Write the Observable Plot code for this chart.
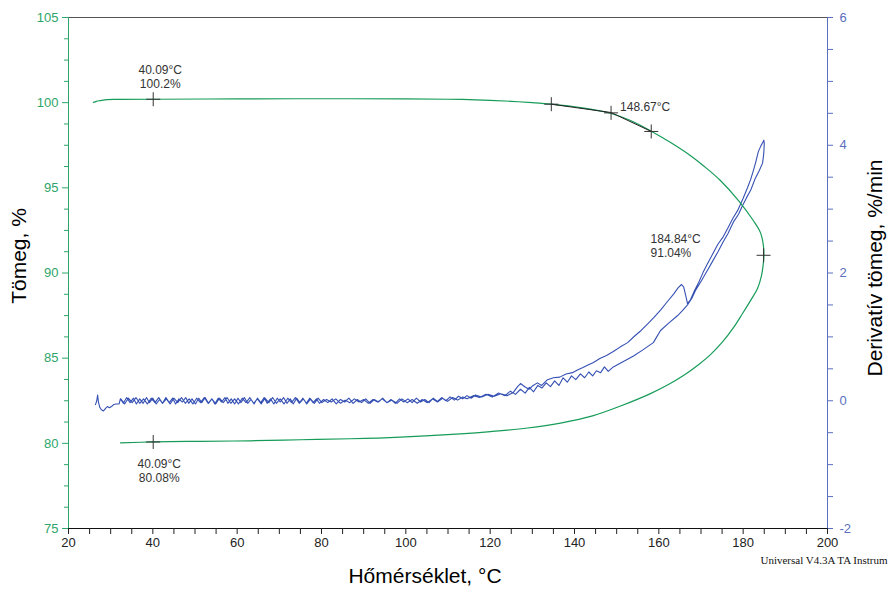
<!DOCTYPE html>
<html>
<head>
<meta charset="utf-8">
<script src="https://cdn.jsdelivr.net/npm/d3@7"></script>
<script src="https://cdn.jsdelivr.net/npm/@observablehq/plot@0.6"></script>
<style>
  html, body { margin: 0; padding: 0; background: #fff; }
  #chart svg { display: block; }
</style>
</head>
<body>
<div id="chart"></div>
<script>
// ---------- data ----------
// Weight %, heating branch (temperature °C, weight %)
const massHeating = [
  [25.9,100.02],[26.6,100.08],[27.5,100.12],[29.2,100.18],[32,100.19],[40.09,100.2],[60,100.22],
  [80,100.23],[100,100.22],[110,100.2],[115,100.18],[120,100.14],[125,100.08],[130,100.0],
  [134.5,99.91],[141.4,99.71],[148.5,99.38],[153.3,98.95],[158.3,98.31],[162.8,97.66],
  [166.8,97.01],[170.8,96.25],[174.6,95.43],[178.9,94.25],[182.4,93.08],[184.1,92.37],
  [184.8,91.61],[184.92,91.02]
];
// Weight %, return branch
const massCooling = [
  [184.7,90.38],[184.35,89.85],[183.4,89.09],[181.74,88.38],[179.85,87.62],[177.78,86.82],
  [175.1,85.95],[172.25,85.21],[169.17,84.57],[165.85,83.98],[162.05,83.42],[158.02,82.92],
  [150.91,82.19],[144.5,81.63],[136.68,81.19],[128.85,80.9],[120.08,80.69],[112.96,80.56],
  [98.73,80.37],[86.88,80.27],[75.02,80.21],[63.16,80.15],[51.3,80.12],[40.09,80.08],[32.33,80.03]
];
// Derivative weight %/min (temperature °C, %/min)
const derivHook = [
  [26.4,-0.06],[26.7,0.0],[26.9,0.09],[27.1,-0.02],[27.4,-0.10],[27.8,-0.14],[28.3,-0.16],
  [28.8,-0.12],[29.2,-0.09],[29.7,-0.11],[30.2,-0.09],[30.7,-0.06],[31.3,-0.05],[32.0,-0.05]
];
const derivHeatBand = [
  [32.3,0.03],[33.0,-0.04],[33.8,0.05],[34.6,-0.03],[35.4,0.04],[36.1,-0.05],[36.9,0.03],
  [37.7,-0.04],[38.5,0.05],[39.2,-0.03],[40.0,0.04],[40.8,-0.05],[41.6,0.02],[42.3,-0.04],
  [43.1,0.05],[43.9,-0.03],[44.7,0.04],[45.4,-0.05],[46.2,0.03],[47.0,-0.02],[47.8,0.05],
  [48.5,-0.04],[49.3,0.03],[50.1,-0.05],[50.9,0.04],[51.6,-0.03],[52.4,0.05],[53.2,-0.04],
  [54.0,0.03],[54.7,-0.05],[55.5,0.04],[56.3,-0.02],[57.1,0.05],[57.8,-0.04],[58.6,0.03],
  [59.4,-0.05],[60.2,0.04],[60.9,-0.03],[61.7,0.05],[62.5,-0.04],[63.3,0.02],[64.0,-0.05],
  [64.8,0.04],[65.6,-0.03],[66.4,0.05],[67.1,-0.04],[67.9,0.03],[68.7,-0.05],[69.5,0.04],
  [70.2,-0.02],[71.0,0.05],[71.8,-0.04],[72.6,0.03],[73.3,-0.05],[74.1,0.04],[74.9,-0.03],
  [75.7,0.03],[76.4,-0.04],[77.2,0.04],[78.0,-0.03],[78.8,0.03],[79.5,-0.04],[80.5,0.02],
  [81.5,-0.03],[82.5,0.03],[83.5,-0.05],[84.5,0.02],[85.5,-0.02],[86.5,0.04],[87.5,-0.04],
  [88.5,0.02],[89.5,-0.03],[90.5,0.03],[91.5,-0.04],[92.5,0.02],[93.5,-0.02],[94.5,0.04],
  [95.5,-0.03],[96.5,0.02],[97.5,-0.04],[98.5,0.03],[99.5,-0.02],[100.5,0.03],[101.5,-0.03],
  [102.5,0.04],[103.5,-0.02],[104.5,0.02],[105.5,-0.03],[106.5,0.04],[107.5,-0.01],[108.5,0.05],
  [109.5,0.0],[110.5,0.06],[111.5,0.01],[112.5,0.07],[113.5,0.03],[114.5,0.08],[115.5,0.04]
];
const derivRise = [
  [116.5,0.09],[118,0.06],[119.5,0.10],[121,0.07],[122.5,0.11],[124,0.08],[125.5,0.13],
  [126.5,0.22],[127.2,0.27],[128.2,0.22],[129.2,0.18],[130.2,0.24],[131.2,0.28],[132.2,0.24],
  [133.6,0.33],[135,0.36],[136.5,0.37],[138,0.42],[139.5,0.44],[140.7,0.48],[142,0.52],
  [143.2,0.56],[144.5,0.60],[146,0.66],[147.6,0.71],[149.2,0.77],[150.8,0.84],[152.6,0.91],
  [154.2,1.01],[155.8,1.10],[157.3,1.20],[158.8,1.30],[160.4,1.42],[162,1.55],[163.5,1.67],
  [164.6,1.77],[165.4,1.82],[165.9,1.78],[166.3,1.67],[166.8,1.52],[167.5,1.58],[168.5,1.73],
  [169.5,1.86],[170.5,2.01],[171.5,2.14],[172.8,2.30],[174,2.45],[175.3,2.57],[176.5,2.72],
  [177.6,2.86],[178.7,2.98],[180,3.17],[181,3.33],[181.8,3.47],[182.4,3.60],[183,3.74],
  [183.6,3.90],[184.2,3.99],[184.7,4.05],[184.9,4.08]
];
const derivFall = [
  [185.0,4.03],[184.9,3.88],[184.6,3.72],[183.8,3.60],[182.8,3.47],[181.8,3.30],[180.8,3.18],
  [179.8,3.05],[178.9,2.92],[177.7,2.80],[176.4,2.62],[175.2,2.48],[174,2.33],[172.8,2.19],
  [171.5,2.04],[170.1,1.88],[168.8,1.74],[167.8,1.60],[166.8,1.50],[165.6,1.41],[164.4,1.33],
  [162.4,1.22],[160.4,1.10],[159.5,1.00],[158.7,0.91],[156.3,0.80],[154,0.70],[151.5,0.61],
  [149.2,0.53],[148,0.46],[147.1,0.53],[146.2,0.44],[145.2,0.47],[144.3,0.39],[143.4,0.45],
  [142.4,0.36],[141.4,0.42],[140.3,0.33],[139.3,0.39],[138.3,0.29],[137.3,0.36],[136.3,0.24],
  [135.3,0.31],[134.3,0.22],[133.3,0.28],[132.3,0.20],[131.3,0.24],[130.3,0.14],[129.3,0.21],
  [128.3,0.12],[127.2,0.18],[126,0.10],[124.8,0.15],[123.5,0.08],[122,0.12],[120.5,0.06],
  [119,0.10],[117.5,0.05],[116,0.08],[114.5,0.03]
];
const derivCoolBand = [
  [113.5,0.06],[112.3,0.01],[111.1,0.05],[109.9,-0.01],[108.7,0.04],[107.5,-0.02],[106.3,0.03],
  [105.1,-0.03],[103.9,0.02],[102.7,-0.04],[101.5,0.02],[100.3,-0.03],[99.1,0.03],[97.9,-0.04],
  [96.7,0.01],[95.5,-0.03],[94.4,0.03],[93.3,-0.02],[92.2,0.02],[91.1,-0.04],[90,0.02],
  [88.9,-0.02],[87.8,0.03],[86.7,-0.03],[85.6,0.01],[84.5,-0.04],[83.4,0.03],[82.3,-0.02],
  [81.2,0.02],[80.1,-0.03],[79.2,0.04],[78.3,-0.04],[77.4,0.03],[76.5,-0.05],[75.6,0.04],
  [74.7,-0.04],[73.8,0.05],[72.9,-0.03],[72.0,0.04],[71.1,-0.05],[70.2,0.03],[69.3,-0.04],
  [68.4,0.05],[67.5,-0.03],[66.6,0.04],[65.7,-0.05],[64.8,0.03],[63.9,-0.04],[63.0,0.05],
  [62.1,-0.03],[61.2,0.04],[60.3,-0.05],[59.4,0.03],[58.5,-0.04],[57.6,0.05],[56.7,-0.03],
  [55.8,0.04],[54.9,-0.05],[54.0,0.03],[53.1,-0.04],[52.2,0.05],[51.3,-0.03],[50.4,0.04],
  [49.5,-0.05],[48.6,0.03],[47.7,-0.04],[46.8,0.05],[45.9,-0.03],[45.0,0.04],[44.1,-0.05],
  [43.2,0.03],[42.3,-0.04],[41.4,0.05],[40.5,-0.03],[39.6,0.04],[38.7,-0.05],[37.8,0.03],
  [36.9,-0.04],[36.0,0.05],[35.1,-0.03],[34.2,0.04],[33.3,-0.05],[32.4,0.03]
];
// Analysis markers (temperature, weight %)
const markers = [[40.09,100.2],[134.5,99.91],[148.67,99.4],[158.2,98.31],[184.84,91.04],[40.09,80.08]];
const onsetTangents = [[134.5,99.91],[148.67,99.42],[158.2,98.31]];
const annotations = [
  {t: 40.09, w: 100.2, label: "40.09°C\n100.2%", pos: "above"},
  {t: 148.67, w: 99.4, label: "148.67°C", pos: "right"},
  {t: 184.84, w: 91.04, label: "184.84°C\n91.04%", pos: "left"},
  {t: 40.09, w: 80.08, label: "40.09°C\n80.08%", pos: "below"}
];
// Tick labels
const xTicks = [20,40,60,80,100,120,140,160,180,200];
const xMinor = [25,30,35,45,50,55,65,70,75,85,90,95,105,110,115,125,130,135,145,150,155,165,170,175,185,190,195];
const yTicks = [75,80,85,90,95,100,105];
const yMinor = [76.25,77.5,78.75,81.25,82.5,83.75,86.25,87.5,88.75,91.25,92.5,93.75,96.25,97.5,98.75,101.25,102.5,103.75];
const dTicks = [-2,0,2,4,6];
const dMinor = [-1.5,-1,-0.5,0.5,1,1.5,2.5,3,3.5,4.5,5,5.5];

// ---------- right axis mapping (%/min -> weight scale) ----------
const D0 = -2, D1 = 6, W0 = 75, W1 = 105;
const toW = d => W0 + (d - D0) * (W1 - W0) / (D1 - D0);
const toD = w => D0 + (w - W0) * (D1 - D0) / (W1 - W0);

const massCurve = massHeating.concat(massCooling);
const derivCurve = derivHook.concat(derivHeatBand, derivRise, derivFall, derivCoolBand);

const GREEN = "#169c58", GREEN_AX = "#2ea56a", BLUE = "#3550b3", BLUE_AX = "#5a6fc0";
const plusSymbol = {
  draw(ctx, size) {
    const r = Math.sqrt(size / Math.PI);
    ctx.moveTo(-r, 0); ctx.lineTo(r, 0);
    ctx.moveTo(0, -r); ctx.lineTo(0, r);
  }
};

const chart = Plot.plot({
  width: 889, height: 593,
  marginLeft: 68, marginRight: 62, marginTop: 17, marginBottom: 65,
  x: {domain: [20, 200]},
  y: {domain: [75, 105]},
  style: {fontFamily: "'Liberation Sans', Arial, sans-serif", fontSize: "12px", background: "#fff"},
  marks: [
    // frame lines
    Plot.ruleY([105], {stroke: "#555", strokeWidth: 1.2}),
    Plot.ruleY([75], {stroke: "#111"}),
    Plot.ruleX([20], {stroke: GREEN_AX}),
    Plot.ruleX([200], {stroke: BLUE_AX}),
    // bottom axis
    Plot.axisX({ticks: xTicks, tickSize: 6, tickPadding: 3, fontSize: 13, color: "#222", label: null}),
    Plot.axisX({ticks: xMinor, tickSize: 6, text: null, label: null, stroke: "#222"}),
    // left axis
    Plot.axisY({ticks: yTicks, tickSize: 6, tickPadding: 4, fontSize: 13, color: GREEN_AX, label: null}),
    Plot.axisY({ticks: yMinor, tickSize: 4, text: null, label: null, stroke: GREEN_AX}),
    // right axis
    Plot.axisY({anchor: "right", ticks: dTicks.map(toW), tickFormat: w => String(Math.round(toD(w))),
      tickSize: 5, tickPadding: 7, fontSize: 13, color: BLUE_AX, label: null}),
    Plot.axisY({anchor: "right", ticks: dMinor.map(toW), tickSize: 5, text: null, label: null, stroke: BLUE_AX}),
    // curves
    Plot.line(derivCurve, {x: d => d[0], y: d => toW(d[1]), stroke: BLUE, strokeWidth: 1.1}),
    Plot.line(massCurve, {x: d => d[0], y: d => d[1], stroke: GREEN, strokeWidth: 1.2, curve: "catmull-rom"}),
    Plot.line(onsetTangents, {x: d => d[0], y: d => d[1], stroke: "#222", strokeWidth: 1}),
    Plot.dot(markers, {x: d => d[0], y: d => d[1], symbol: plusSymbol, r: 7, stroke: "#333", fill: "none", strokeWidth: 1}),
    // annotations
    Plot.text(annotations.filter(a => a.pos === "above"), {x: "t", y: "w", text: "label", textAnchor: "middle", lineAnchor: "bottom", dx: 7, dy: -11, fill: "#333", fontSize: 12, lineHeight: 1.15}),
    Plot.text(annotations.filter(a => a.pos === "right"), {x: "t", y: "w", text: "label", textAnchor: "start", dx: 9, dy: -6, fill: "#333", fontSize: 12}),
    Plot.text(annotations.filter(a => a.pos === "left"), {x: "t", y: "w", text: "label", textAnchor: "start", lineAnchor: "bottom", dx: -113, dy: 2, fill: "#333", fontSize: 12, lineHeight: 1.15}),
    Plot.text(annotations.filter(a => a.pos === "below"), {x: "t", y: "w", text: "label", textAnchor: "middle", lineAnchor: "top", dx: 6, dy: 16, fill: "#333", fontSize: 12, lineHeight: 1.15}),
    // axis titles
    Plot.text(["Tömeg, %"], {frameAnchor: "left", textAnchor: "middle", rotate: -90, dx: -49, dy: -17, fontSize: 21, fill: "#000"}),
    Plot.text(["Derivatív tömeg, %/min"], {frameAnchor: "right", textAnchor: "middle", rotate: -90, dx: 48, dy: -5, fontSize: 21, fill: "#000"}),
    Plot.text(["Hőmérséklet, °C"], {frameAnchor: "bottom", textAnchor: "middle", dx: -23, dy: 54, fontSize: 21, fill: "#000"}),
    Plot.text(["Universal V4.3A TA Instrum"], {frameAnchor: "bottom-right", textAnchor: "end", dx: 60, dy: 35, fontSize: 11, fill: "#111", fontFamily: "'Liberation Serif', 'Times New Roman', serif"})
  ]
});
document.getElementById("chart").appendChild(chart);
</script>
</body>
</html>
